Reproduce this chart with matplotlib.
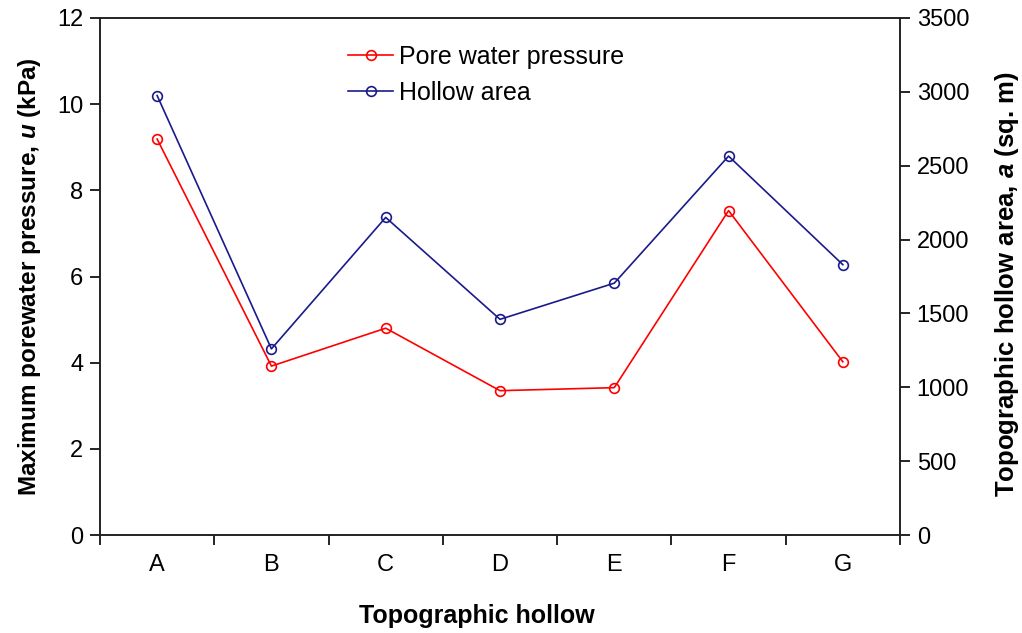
import matplotlib
matplotlib.use("Agg")
import matplotlib.pyplot as plt
from matplotlib.lines import Line2D
from matplotlib.ticker import FixedLocator, NullFormatter

plt.rcParams['font.family'] = ['Liberation Sans', 'DejaVu Sans']
plt.rcParams['mathtext.fontset'] = 'custom'
plt.rcParams['mathtext.bfit'] = 'Liberation Sans:bold:italic'

categories = ["A", "B", "C", "D", "E", "F", "G"]
pore_pressure = [9.19, 3.92, 4.80, 3.35, 3.42, 7.53, 4.02]
hollow_area = [2975, 1260, 2150, 1460, 1705, 2565, 1830]

fig = plt.figure(figsize=(10.22, 6.33), dpi=100)
ax = fig.add_axes([100/1022, 1-535/633, 800/1022, 517/633])
ax2 = ax.twinx()

x = list(range(len(categories)))
ax.plot(x, pore_pressure, color='#ff0000', lw=1.2, marker='o', ms=7,
        mfc='none', mec='#ff0000', mew=1.2)
ax2.plot(x, hollow_area, color='#1a1a8c', lw=1.2, marker='o', ms=7,
         mfc='none', mec='#1a1a8c', mew=1.2)

ax.set_xlim(-0.5, len(categories) - 0.5)
ax.set_ylim(0, 12)
ax2.set_ylim(0, 3500)
ax.set_yticks(range(0, 13, 2))
ax2.set_yticks(range(0, 3501, 500))

ax.set_xticks(x)
ax.set_xticklabels(categories)
ax.xaxis.set_minor_locator(FixedLocator([i - 0.5 for i in range(len(categories) + 1)]))
ax.xaxis.set_minor_formatter(NullFormatter())
ax.tick_params(axis='x', which='major', length=0, pad=14, labelsize=17)
ax.tick_params(axis='x', which='minor', length=7, width=1.2, direction='out')
ax.tick_params(axis='y', length=7, width=1.2, direction='out', labelsize=17, pad=5)
ax2.tick_params(axis='y', length=7, width=1.2, direction='out', labelsize=17, pad=5)

for a in (ax, ax2):
    for s in a.spines.values():
        s.set_linewidth(1.2)
        s.set_color('#222222')

ax.set_xlabel('Topographic hollow', fontsize=18, fontweight='bold', labelpad=20)
ax.xaxis.label.set_x(0.471)
ax.set_ylabel('Maximum porewater pressure, $\\boldsymbol{u}$ (kPa)', fontsize=17.5,
              fontweight='bold', labelpad=10)
ax2.set_ylabel('Topographic hollow area, $\\boldsymbol{a}$ (sq. m)', fontsize=18.5,
               fontweight='bold', labelpad=17)
ax2.yaxis.label.set_y(0.485)

handles = [
    Line2D([], [], color='#ff0000', lw=1.2, marker='o', ms=7, mfc='none', mew=1.2),
    Line2D([], [], color='#1a1a8c', lw=1.2, marker='o', ms=7, mfc='none', mew=1.2),
]
ax.legend(handles, ['Pore water pressure', 'Hollow area'], loc='upper left',
          bbox_to_anchor=(0.282, 0.992), frameon=False, fontsize=18,
          handlelength=1.8, handletextpad=0.25, labelspacing=0.5)

fig.savefig('out.png', dpi=100)
